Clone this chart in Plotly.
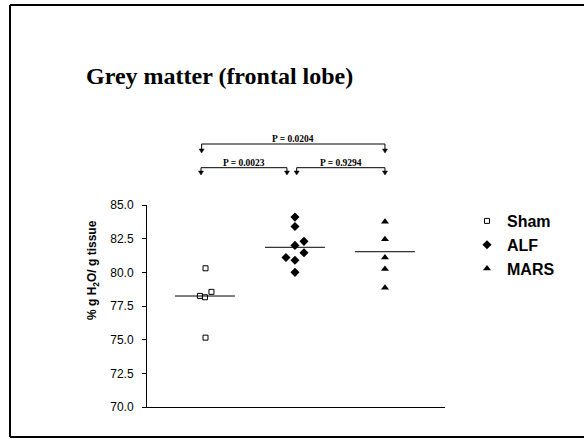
import plotly.graph_objects as go

# ---------------- data ----------------
groups = ["Sham", "ALF", "MARS"]
group_pos = [1, 2, 3]
sham_values = [80.3, 78.25, 78.15, 78.55, 75.15]
alf_values = [84.1, 83.4, 82.3, 82.0, 81.45, 81.1, 80.9, 80.0]
mars_values = [83.75, 82.45, 81.1, 80.25, 78.85]
center_lines = [78.24, 81.86, 81.53]
comparisons = [("Sham", "MARS", "P = 0.0204"), ("Sham", "ALF", "P = 0.0023"), ("ALF", "MARS", "P = 0.9294")]
y_ticks = [70.0, 72.5, 75.0, 77.5, 80.0, 82.5, 85.0]

# dot-plot horizontal spread (in category units)
sham_jitter = [0.006, -0.056, 0.0, 0.072, 0.006]
alf_jitter = [0.0, 0.0, 0.1, 0.0, 0.1, -0.1, 0.0, 0.0]
mars_jitter = [0.0, 0.0, 0.0, 0.0, 0.0]

W, H = 584, 441
L, R, T, B = 147, 445, 205, 407  # plot area in pixels
XMIN, XMAX = 0.356, 3.667


def px(xp):
    return (xp - L) / (R - L)


def py(yp):
    return (B - yp) / (B - T)


XU = (XMAX - XMIN) / (R - L)  # data units per pixel on x

SERIF = "Liberation Serif"
SANS = "Liberation Sans"

fig = go.Figure()
series = [
    (sham_values, sham_jitter, dict(symbol="square-open", size=5, color="black", line=dict(width=1, color="black"))),
    (alf_values, alf_jitter, dict(symbol="diamond", size=7, color="black")),
    (mars_values, mars_jitter, dict(symbol="triangle-up", size=7, color="black")),
]
for i, (name, pos, (vals, jit, mk)) in enumerate(zip(groups, group_pos, series)):
    fig.add_trace(go.Scatter(
        x=[pos + j for j in jit], y=vals, mode="markers", name=name,
        marker=mk, cliponaxis=False, legendgroup=name,
    ))

shapes = []
annotations = []
# centre lines
for pos, c in zip(group_pos, center_lines):
    shapes.append(dict(type="line", xref="x", yref="y", x0=pos - 0.333, x1=pos + 0.333,
                       y0=c, y1=c, line=dict(color="black", width=1)))

# significance brackets
bracket_specs = [
    (comparisons[0], 0.963, 3.0, 144, 153),
    (comparisons[1], 0.956, 1.911, 167.7, 175),
    (comparisons[2], 2.019, 3.0, 167.7, 175),
]
for (a, b, label), xa, xb, ytop, ytip in bracket_specs:
    shapes.append(dict(type="line", xref="x", yref="paper", x0=xa, x1=xb,
                       y0=py(ytop), y1=py(ytop), line=dict(color="black", width=1)))
    for xx in (xa, xb):
        shapes.append(dict(type="line", xref="x", yref="paper", x0=xx, x1=xx,
                           y0=py(ytop), y1=py(ytip - 3), line=dict(color="black", width=1)))
        hw = 2.5 * XU
        path = (f"M {xx - hw} {py(ytip - 4)} L {xx + hw} {py(ytip - 4)} "
                f"L {xx} {py(ytip)} Z")
        shapes.append(dict(type="path", xref="x", yref="paper", path=path,
                           fillcolor="black", line=dict(color="black", width=0.5)))
    annotations.append(dict(xref="x", yref="paper", x=(xa + xb) / 2, y=py(ytop - 12),
                            text=f"<b>{label}</b>", showarrow=False,
                            font=dict(family=SERIF, size=9.5, color="black")))

# frame (left, top, bottom)
for x0, y0, x1, y1 in [(10, 5, 10, 437), (10, 5, 584, 5), (10, 437, 584, 437)]:
    shapes.append(dict(type="line", xref="paper", yref="paper", x0=px(x0), x1=px(x1),
                       y0=py(y0), y1=py(y1), line=dict(color="black", width=2)))

# title
annotations.append(dict(xref="paper", yref="paper", x=px(84), y=py(76), xanchor="left",
                        yanchor="middle", text="<b>Grey matter (frontal lobe)</b>",
                        showarrow=False, font=dict(family=SERIF, size=24, color="black")))
# y-axis title
annotations.append(dict(xref="paper", yref="paper", x=px(93), y=py(270), textangle=-90,
                        text="<b>% g H<sub>2</sub>O/ g tissue</b>", showarrow=False,
                        xanchor="center", yanchor="middle",
                        font=dict(family=SANS, size=12, color="black")))

fig.update_layout(
    width=W, height=H, autosize=False,
    margin=dict(l=L, r=W - R, t=T, b=H - B, pad=0),
    paper_bgcolor="white", plot_bgcolor="white",
    shapes=shapes, annotations=annotations,
    showlegend=True,
    legend=dict(x=px(467), y=py(204), xanchor="left", yanchor="top",
                font=dict(family=SANS, size=16, color="black", weight="bold"),
                bgcolor="rgba(0,0,0,0)", itemwidth=30, tracegroupgap=0),
    xaxis=dict(range=[XMIN, XMAX], showline=True, linecolor="black", linewidth=1,
               showgrid=False, zeroline=False, showticklabels=False, ticks=""),
    yaxis=dict(range=[70, 85], tickvals=y_ticks, tickformat=".1f", showline=True,
               linecolor="black", linewidth=1, showgrid=False, zeroline=False,
               ticks="outside", ticklen=4, tickcolor="black", ticklabelstandoff=6,
               tickfont=dict(family=SANS, size=12, color="black")),
)
fig.write_html("out.html", config={"displayModeBar": False},
               post_script="document.body.style.margin='0';")
